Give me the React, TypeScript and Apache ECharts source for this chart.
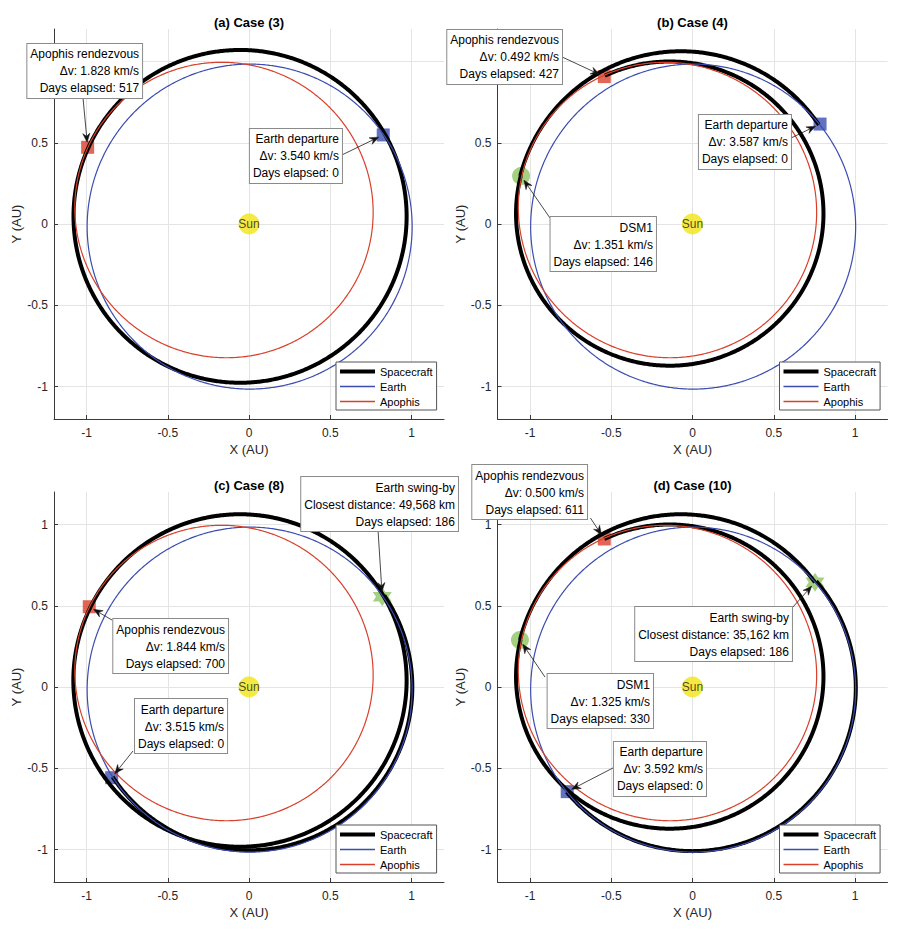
import React, { useEffect, useRef } from 'react';
import * as echarts from 'echarts';

type Pt = [number, number];

const FONT = '"Liberation Sans", Arial, Helvetica, sans-serif';
const AXIS_TICKS = [-1, -0.5, 0, 0.5, 1];
// In cases (a) and (b) the "1" Y label is hidden behind the annotation box
const Y_LABELS_COVERED = [-1, -0.5, 0, 0.5];
const PANEL_TITLES = ['(a) Case (3)', '(b) Case (4)', '(c) Case (8)', '(d) Case (10)'];
const LEGEND_NAMES = ['Spacecraft', 'Earth', 'Apophis'];

// Orbit arcs: [centerX, centerY, semiAxisX, semiAxisY, rotationDeg, startAngleDeg, endAngleDeg] (AU)
const EARTH_ORBIT = [[0.004, -0.016, 1.0, 1.0, 0, 0, 360]];
const APOPHIS_ORBIT = [[-0.154, 0.086, 0.922, 0.905, 150.8, 0, 360]];
const SPACECRAFT_A = [[-0.055, 0.047, 1.025, 1.024, 0, 29.6, 515.6]];
const SPACECRAFT_B = [
  [-0.071, 0.042, 1.021, 1.021, 0, 33.8, 165.6],
  [-0.14, 0.064, 0.946, 0.936, 0, 165.7, 475.0],
];
const SPACECRAFT_C = [
  [0.0, 0.0, 1.005, 1.005, 0, 213.4, 394.1],
  [-0.0555, 0.04, 1.0255, 1.023, 0, 30.6, 513.9],
];
const SPACECRAFT_D = [
  [0.0, -0.005, 1.005, 1.005, 0, 219.6, 400.7],
  [-0.071, 0.042, 1.021, 1.021, 0, 36.1, 166.0],
  [-0.14, 0.064, 0.946, 0.936, 0, 166.0, 475.2],
];

// Mission events (AU positions, delta-v km/s, days)
const CASE_A_DEPARTURE: Pt = [0.826, 0.548];
const CASE_A_RENDEZVOUS: Pt = [-0.993, 0.472];
const CASE_A_DV = [3.54, 1.828];
const CASE_A_DAYS = [0, 517];

const CASE_B_DEPARTURE: Pt = [0.785, 0.615];
const CASE_B_DSM: Pt = [-1.055, 0.295];
const CASE_B_RENDEZVOUS: Pt = [-0.543, 0.907];
const CASE_B_DV = [3.587, 1.351, 0.492];
const CASE_B_DAYS = [0, 146, 427];

const CASE_C_DEPARTURE: Pt = [-0.845, -0.558];
const CASE_C_SWINGBY: Pt = [0.82, 0.556];
const CASE_C_RENDEZVOUS: Pt = [-0.983, 0.494];
const CASE_C_DV = [3.515, 1.844];
const CASE_C_DAYS = [0, 186, 700];
const CASE_C_CLOSEST_KM = 49568;

const CASE_D_DEPARTURE: Pt = [-0.771, -0.644];
const CASE_D_SWINGBY: Pt = [0.754, 0.644];
const CASE_D_DSM: Pt = [-1.062, 0.289];
const CASE_D_RENDEZVOUS: Pt = [-0.543, 0.911];
const CASE_D_DV = [3.592, 1.325, 0.5];
const CASE_D_DAYS = [0, 186, 330, 611];
const CASE_D_CLOSEST_KM = 35162;

const SUN: Pt = [0, 0];

// ---- styling / layout ----
const BLUE = '#3b4db0';
const RED = '#d9402b';
const GREEN = '#8fc462';
const YELLOW = '#f3e515';
const AXIS_COLOR = '#262626';
const GRID_SIZE = 390;
const GRID_POS: Pt[] = [[54, 29], [497.5, 29], [54, 492], [497.5, 492]];
const TITLE_Y = [22, 22, 485, 485];
const LEGEND_POS: Pt[] = [[336, 362], [779.5, 362], [336, 825], [779.5, 825]];
const HEXAGRAM =
  'path://M10 0 L12.89 5 L18.66 5 L15.77 10 L18.66 15 L12.89 15 L10 20 L7.11 15 L1.34 15 L4.23 10 L1.34 5 L7.11 5 Z';
const LEGEND_ICONS = [
  'path://M0 0 M0 10 M0 3 H35 V7 H0 Z',
  'path://M0 0 M0 10 M0 4.35 H35 V5.65 H0 Z',
  'path://M0 0 M0 10 M0 4.35 H35 V5.65 H0 Z',
];

const dvLine = (v: number) => `\u0394v: ${v.toFixed(3)} km/s`;
const daysLine = (d: number) => `Days elapsed: ${d}`;
const fmtKm = (n: number) => n.toLocaleString('en-US');

type Note = { target: Pt; lines: string[]; box: Pt; from: Pt };

const PANELS: {
  sc: number[][];
  departure: Pt;
  rendezvous: Pt;
  dsm: Pt | null;
  swing: Pt | null;
  yLabels: number[];
  notes: Note[];
}[] = [
  {
    sc: SPACECRAFT_A,
    departure: CASE_A_DEPARTURE,
    rendezvous: CASE_A_RENDEZVOUS,
    dsm: null,
    swing: null,
    yLabels: Y_LABELS_COVERED,
    notes: [
      { target: CASE_A_RENDEZVOUS, lines: ['Apophis rendezvous', dvLine(CASE_A_DV[1]), daysLine(CASE_A_DAYS[1])], box: [-0.658, 1.108], from: [-1.022, 0.782] },
      { target: CASE_A_DEPARTURE, lines: ['Earth departure', dvLine(CASE_A_DV[0]), daysLine(CASE_A_DAYS[0])], box: [0.572, 0.585], from: [0.572, 0.425] },
    ],
  },
  {
    sc: SPACECRAFT_B,
    departure: CASE_B_DEPARTURE,
    rendezvous: CASE_B_RENDEZVOUS,
    dsm: CASE_B_DSM,
    swing: null,
    yLabels: Y_LABELS_COVERED,
    notes: [
      { target: CASE_B_RENDEZVOUS, lines: ['Apophis rendezvous', dvLine(CASE_B_DV[2]), daysLine(CASE_B_DAYS[2])], box: [-0.803, 1.194], from: [-0.803, 1.028] },
      { target: CASE_B_DEPARTURE, lines: ['Earth departure', dvLine(CASE_B_DV[0]), daysLine(CASE_B_DAYS[0])], box: [0.606, 0.671], from: [0.606, 0.529] },
      { target: CASE_B_DSM, lines: ['DSM1', dvLine(CASE_B_DV[1]), daysLine(CASE_B_DAYS[1])], box: [-0.225, 0.043], from: [-0.877, 0.037] },
    ],
  },
  {
    sc: SPACECRAFT_C,
    departure: CASE_C_DEPARTURE,
    rendezvous: CASE_C_RENDEZVOUS,
    dsm: null,
    swing: CASE_C_SWINGBY,
    yLabels: AXIS_TICKS,
    notes: [
      { target: CASE_C_SWINGBY, lines: ['Earth swing-by', `Closest distance: ${fmtKm(CASE_C_CLOSEST_KM)} km`, daysLine(CASE_C_DAYS[1])], box: [1.286, 1.292], from: [0.794, 0.966] },
      { target: CASE_C_RENDEZVOUS, lines: ['Apophis rendezvous', dvLine(CASE_C_DV[1]), daysLine(CASE_C_DAYS[2])], box: [-0.129, 0.418], from: [-0.843, 0.412] },
      { target: CASE_C_DEPARTURE, lines: ['Earth departure', dvLine(CASE_C_DV[0]), daysLine(CASE_C_DAYS[0])], box: [-0.135, -0.074], from: [-0.714, -0.394] },
    ],
  },
  {
    sc: SPACECRAFT_D,
    departure: CASE_D_DEPARTURE,
    rendezvous: CASE_D_RENDEZVOUS,
    dsm: CASE_D_DSM,
    swing: CASE_D_SWINGBY,
    yLabels: AXIS_TICKS,
    notes: [
      { target: CASE_D_RENDEZVOUS, lines: ['Apophis rendezvous', dvLine(CASE_D_DV[2]), daysLine(CASE_D_DAYS[3])], box: [-0.649, 1.366], from: [-0.628, 1.04] },
      { target: CASE_D_SWINGBY, lines: ['Earth swing-by', `Closest distance: ${fmtKm(CASE_D_CLOSEST_KM)} km`, daysLine(CASE_D_DAYS[1])], box: [0.612, 0.492], from: [0.618, 0.492] },
      { target: CASE_D_DSM, lines: ['DSM1', dvLine(CASE_D_DV[1]), daysLine(CASE_D_DAYS[2])], box: [-0.243, 0.08], from: [-0.908, 0.0615] },
      { target: CASE_D_DEPARTURE, lines: ['Earth departure', dvLine(CASE_D_DV[0]), daysLine(CASE_D_DAYS[0])], box: [0.083, -0.338], from: [-0.489, -0.498] },
    ],
  },
];

function orbitRenderer(color: string, width: number) {
  return (_params: any, api: any) => {
    const cx = api.value(0);
    const cy = api.value(1);
    const sx = api.value(2);
    const sy = api.value(3);
    const rot = (api.value(4) * Math.PI) / 180;
    const t0 = api.value(5);
    const t1 = api.value(6);
    const steps = Math.max(2, Math.ceil(Math.abs(t1 - t0) / 0.5));
    const pts: number[][] = [];
    for (let i = 0; i <= steps; i++) {
      const t = ((t0 + ((t1 - t0) * i) / steps) * Math.PI) / 180;
      const ex = sx * Math.cos(t);
      const ey = sy * Math.sin(t);
      pts.push(api.coord([cx + ex * Math.cos(rot) - ey * Math.sin(rot), cy + ex * Math.sin(rot) + ey * Math.cos(rot)]));
    }
    return {
      type: 'polyline',
      silent: true,
      shape: { points: pts },
      style: { stroke: color, lineWidth: width, fill: null, lineJoin: 'round' },
    };
  };
}

function noteRenderer(notes: Note[]) {
  return (params: any, api: any) => {
    const note = notes[params.dataIndex];
    const tip = api.coord([api.value(0), api.value(1)]);
    const box = api.coord([api.value(2), api.value(3)]);
    const st = api.coord([api.value(4), api.value(5)]);
    const dx = tip[0] - st[0];
    const dy = tip[1] - st[1];
    const L = Math.hypot(dx, dy) || 1;
    const ux = dx / L;
    const uy = dy / L;
    const end = [tip[0] - ux * 5, tip[1] - uy * 5];
    const hl = 9;
    const hw = 3.6;
    const notch = 6;
    const px = -uy;
    const py = ux;
    const head = [
      end,
      [end[0] - ux * hl + px * hw, end[1] - uy * hl + py * hw],
      [end[0] - ux * notch, end[1] - uy * notch],
      [end[0] - ux * hl - px * hw, end[1] - uy * hl - py * hw],
    ];
    return {
      type: 'group',
      children: [
        {
          type: 'line',
          shape: { x1: st[0], y1: st[1], x2: end[0] - ux * notch, y2: end[1] - uy * notch },
          style: { stroke: '#1a1a1a', lineWidth: 0.8 },
        },
        { type: 'polygon', shape: { points: head }, style: { fill: '#111', stroke: '#111', lineWidth: 0.5 } },
        {
          type: 'text',
          x: box[0],
          y: box[1],
          style: {
            text: note.lines.join('\n'),
            fill: '#000',
            font: `12px ${FONT}`,
            fontSize: 12,
            fontFamily: FONT,
            align: 'right',
            textAlign: 'right',
            verticalAlign: 'top',
            textVerticalAlign: 'top',
            lineHeight: 17,
            backgroundColor: '#fff',
            borderColor: '#8a8a8a',
            borderWidth: 1,
            padding: [2, 3, 1, 3],
          },
        },
      ],
    };
  };
}

function makeAxis(i: number, isX: boolean, labels: number[]) {
  return {
    type: 'value',
    gridIndex: i,
    min: -1.2,
    max: 1.2,
    name: isX ? 'X (AU)' : 'Y (AU)',
    nameLocation: 'middle',
    nameGap: isX ? 24 : 27,
    nameTextStyle: { fontSize: 13, color: AXIS_COLOR, fontFamily: FONT },
    axisLine: { show: true, onZero: false, lineStyle: { color: '#3a3a3a', width: 1 } },
    axisTick: { show: true, inside: true, length: 4, customValues: AXIS_TICKS, lineStyle: { color: '#3a3a3a' } },
    axisLabel: {
      show: true,
      customValues: labels,
      fontSize: 12,
      color: AXIS_COLOR,
      fontFamily: FONT,
      margin: isX ? 8 : 6,
    },
    splitLine: { show: true, lineStyle: { color: '#e4e4e4', width: 1 } },
  };
}

export default function App() {
  const ref = useRef<HTMLDivElement>(null);

  useEffect(() => {
    if (!ref.current) return;
    const chart = echarts.init(ref.current, undefined, { renderer: 'svg' });
    const series: any[] = [
      { type: 'line', name: 'Spacecraft', data: [], xAxisIndex: 0, yAxisIndex: 0, symbol: 'none', lineStyle: { color: '#000', width: 4 }, itemStyle: { color: '#000' } },
      { type: 'line', name: 'Earth', data: [], xAxisIndex: 0, yAxisIndex: 0, symbol: 'none', lineStyle: { color: BLUE, width: 1.3 }, itemStyle: { color: BLUE } },
      { type: 'line', name: 'Apophis', data: [], xAxisIndex: 0, yAxisIndex: 0, symbol: 'none', lineStyle: { color: RED, width: 1.3 }, itemStyle: { color: RED } },
    ];

    PANELS.forEach((p, i) => {
      const ax = { xAxisIndex: i, yAxisIndex: i };
      series.push({
        type: 'scatter', ...ax, data: [SUN], symbol: 'circle', symbolSize: 21, silent: true, z: 2,
        itemStyle: { color: YELLOW },
        label: { show: true, position: 'inside', formatter: 'Sun', fontSize: 12, color: '#1a1a1a', fontFamily: FONT },
      });
      series.push({ type: 'scatter', ...ax, data: [p.departure], symbol: 'rect', symbolSize: 13, silent: true, z: 2, itemStyle: { color: BLUE } });
      series.push({ type: 'scatter', ...ax, data: [p.rendezvous], symbol: 'rect', symbolSize: 13, silent: true, z: 2, itemStyle: { color: RED } });
      if (p.dsm) series.push({ type: 'scatter', ...ax, data: [p.dsm], symbol: 'circle', symbolSize: 18, silent: true, z: 2, itemStyle: { color: GREEN } });
      if (p.swing) series.push({ type: 'scatter', ...ax, data: [p.swing], symbol: HEXAGRAM, symbolSize: 19, silent: true, z: 2, itemStyle: { color: GREEN } });
      series.push({ type: 'custom', ...ax, data: p.sc, renderItem: orbitRenderer('#000', 4), silent: true, z: 3, clip: false });
      series.push({ type: 'custom', ...ax, data: EARTH_ORBIT, renderItem: orbitRenderer(BLUE, 1.2), silent: true, z: 3, clip: false });
      series.push({ type: 'custom', ...ax, data: APOPHIS_ORBIT, renderItem: orbitRenderer(RED, 1.2), silent: true, z: 3, clip: false });
      series.push({
        type: 'custom', ...ax,
        data: p.notes.map((n) => [n.target[0], n.target[1], n.box[0], n.box[1], n.from[0], n.from[1]]),
        renderItem: noteRenderer(p.notes), silent: true, z: 6, clip: false,
      });
    });

    const option: any = {
      animation: false,
      backgroundColor: '#fff',
      textStyle: { fontFamily: FONT },
      grid: GRID_POS.map(([l, t]) => ({ left: l, top: t, width: GRID_SIZE, height: GRID_SIZE, containLabel: false })),
      xAxis: GRID_POS.map((_, i) => makeAxis(i, true, AXIS_TICKS)),
      yAxis: GRID_POS.map((_, i) => makeAxis(i, false, PANELS[i].yLabels)),
      legend: LEGEND_POS.map(([l, t]) => ({
        left: l, top: t, orient: 'vertical',
        data: LEGEND_NAMES.map((n, k) => ({ name: n, icon: LEGEND_ICONS[k] })),
        selectedMode: false,
        itemWidth: 35, itemHeight: 10, itemGap: 4, padding: [4, 4, 3, 4],
        backgroundColor: '#fff', borderColor: '#555', borderWidth: 1, borderRadius: 0,
        textStyle: { fontSize: 11, color: '#000', fontFamily: FONT },
        z: 8,
      })),
      graphic: PANEL_TITLES.map((t, i) => ({
        type: 'text',
        x: GRID_POS[i][0] + GRID_SIZE / 2,
        y: TITLE_Y[i],
        z: 10,
        style: {
          text: t, font: `bold 13px ${FONT}`, fill: '#000',
          align: 'center', textAlign: 'center', verticalAlign: 'middle', textVerticalAlign: 'middle',
        },
      })),
      series,
    };
    chart.setOption(option);
    return () => chart.dispose();
  }, []);

  return <div ref={ref} style={{ position: 'absolute', left: 0, top: 0, width: 901, height: 934, background: '#fff' }} />;
}
